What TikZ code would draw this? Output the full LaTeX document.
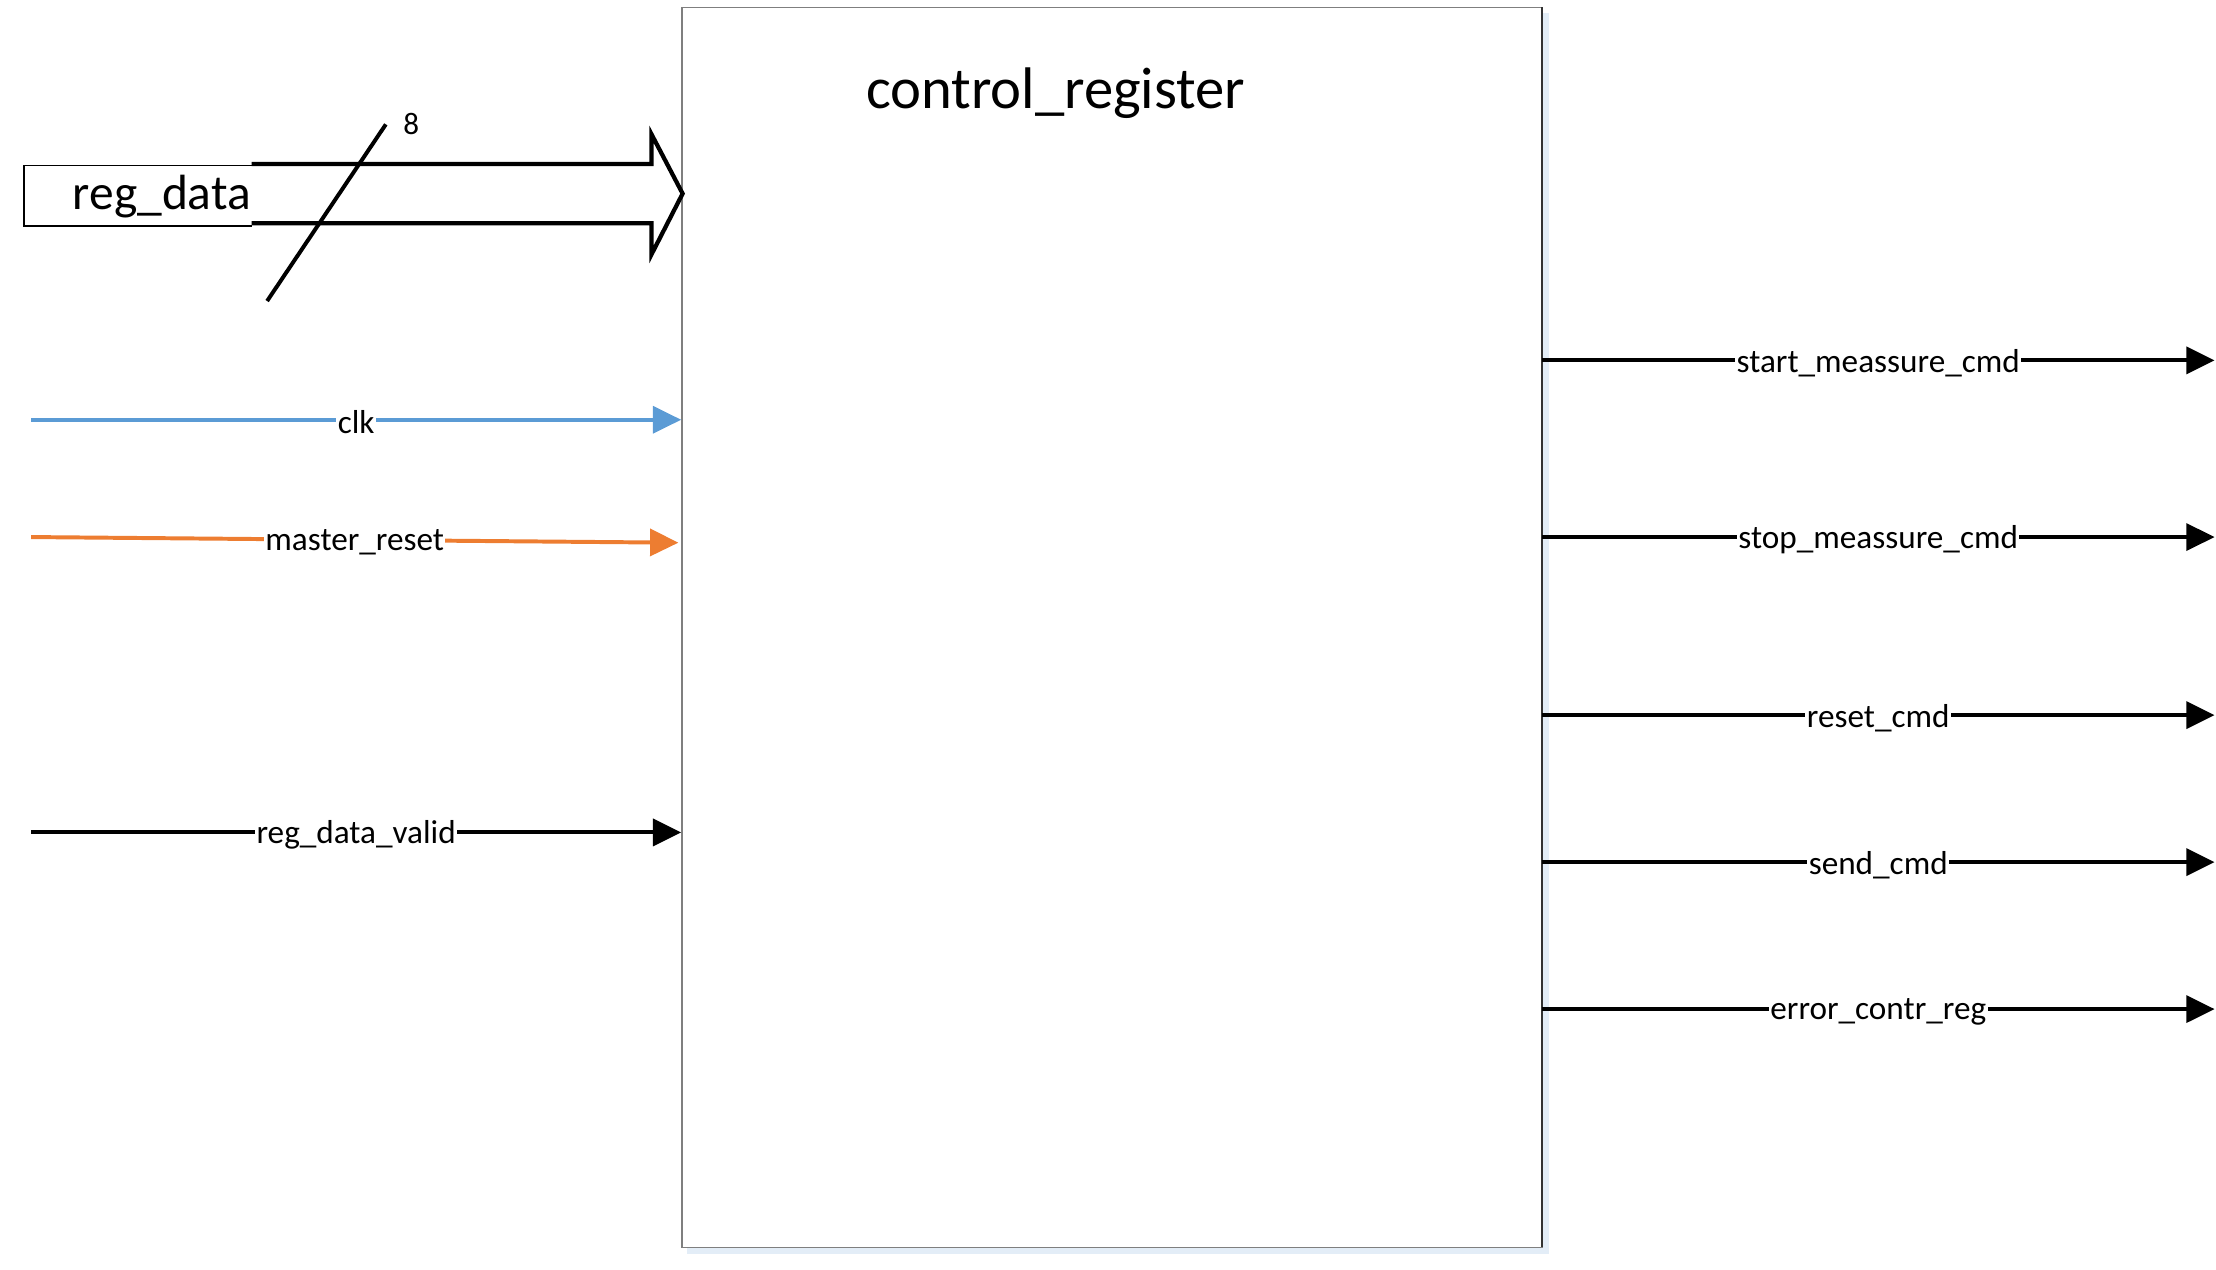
\documentclass[tikz,border=0pt]{standalone}
\usepackage{fontspec}
\setmainfont{Carlito}
\usetikzlibrary{arrows.meta}
\definecolor{clkblue}{HTML}{5B9BD5}
\definecolor{rstorange}{HTML}{ED7D31}
\definecolor{boxgray}{HTML}{7F7F7F}
\definecolor{shadowblue}{HTML}{E3EDF7}
\tikzset{
  sig/.style={line width=2.8pt, -{Triangle[length=20pt,width=19pt]}},
  lbl/.style={fill=white, inner sep=1pt, yshift=-2pt, font=\fontsize{23.5}{28}\selectfont},
}
\begin{document}
\begin{tikzpicture}[x=1pt,y=-1pt]
\useasboundingbox (0,0) rectangle (1568,898);
% block
\fill[shadowblue] (486,9) rectangle (1096,887);
\node[draw=boxgray, line width=1pt, fill=white, minimum width=609pt, minimum height=877pt, inner sep=0pt, anchor=north west] (blk) at (482,5) {};
\draw[black!80, line width=1pt] (1091,5) -- (1091,882);
\node[font=\fontsize{41.5}{48}\selectfont, anchor=base] (title) at (747,77) {control\_register};
% reg_data bus arrow
\coordinate (busTip) at (483,137);
\draw[line width=3pt, line join=miter] (178,116) -- (461,116) -- (461,95) -- (busTip) -- (461,180) -- (461,158) -- (178,158);
\draw[line width=1pt] (178,117) -- (17,117) -- (17,160) -- (178,160);
\node[font=\fontsize{35}{42}\selectfont] (regdata) at (114.5,139) {reg\_data};
\coordinate (slA) at (273,88);
\coordinate (slB) at (189,213);
\draw[line width=2.8pt] (slA) -- (slB);
\node[font=\fontsize{22}{26}\selectfont] (eight) at (291,88) {8};
% inputs
\coordinate (clkS) at (22,297);
\coordinate (clkE) at (482,297);
\draw[sig, clkblue] (clkS) -- node[lbl, text=black] {clk} (clkE);
\coordinate (mrS) at (22,380);
\coordinate (mrE) at (480,384);
\draw[sig, rstorange] (mrS) -- node[lbl, text=black] {master\_reset} (mrE);
\coordinate (rdvS) at (22,589);
\coordinate (rdvE) at (482,589);
\draw[sig] (rdvS) -- node[lbl] {reg\_data\_valid} (rdvE);
% outputs
\foreach \y/\t/\n in {255/start\_meassure\_cmd/o1, 380/stop\_meassure\_cmd/o2, 506/reset\_cmd/o3, 610/send\_cmd/o4, 714/error\_contr\_reg/o5}{
  \coordinate (\n s) at (1091,\y);
  \coordinate (\n e) at (1567,\y);
  \draw[sig] (\n s) -- node[lbl] {\t} (\n e);
}
\end{tikzpicture}
\end{document}
